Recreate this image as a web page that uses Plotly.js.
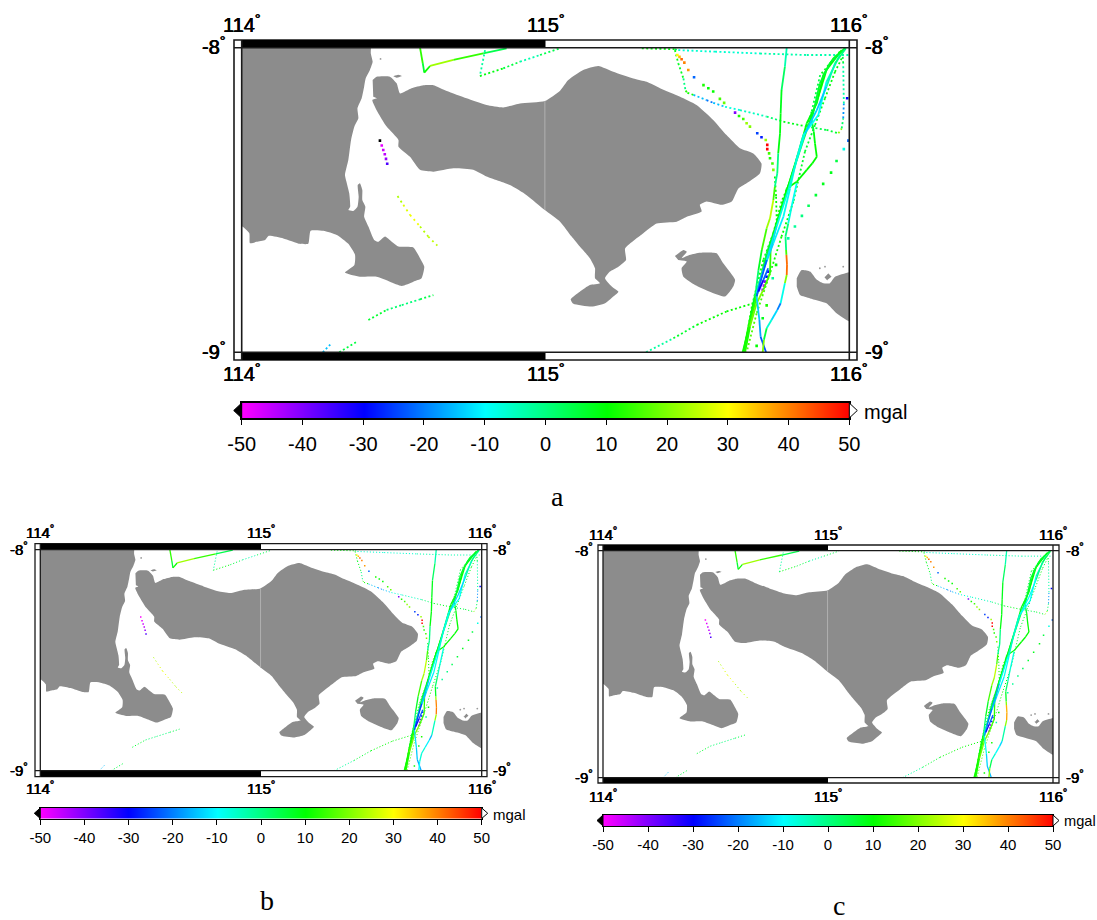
<!DOCTYPE html>
<html><head><meta charset="utf-8">
<script src="https://cdn.plot.ly/plotly-3.0.1.min.js"></script>
<style>html,body{margin:0;padding:0;background:#fff}</style></head>
<body><div id="chart" style="width:1097px;height:920px"></div>
<script>
// ---------- land outlines (lon / lat) ----------
const javaLon=[113.9,114.422,114.425,114.431,114.422,114.408,114.403,114.395,114.381,114.384,114.371,114.360,114.351,114.340,114.346,114.354,114.357,114.351,114.367,114.381,114.385,114.382,114.389,114.397,114.397,114.407,114.403,114.417,114.436,114.450,114.472,114.494,114.516,114.565,114.587,114.601,114.592,114.565,114.527,114.488,114.444,114.389,114.340,114.371,114.373,114.351,114.313,114.269,114.227,114.219,114.192,114.137,114.088,114.077,114.049,114.027,114.025,114.002,113.9];
const javaLat=[-7.9,-7.9,-8.019,-8.046,-8.073,-8.101,-8.128,-8.166,-8.199,-8.232,-8.259,-8.303,-8.369,-8.418,-8.445,-8.478,-8.522,-8.533,-8.536,-8.522,-8.489,-8.451,-8.445,-8.467,-8.500,-8.522,-8.555,-8.587,-8.631,-8.637,-8.620,-8.637,-8.653,-8.656,-8.691,-8.719,-8.757,-8.768,-8.782,-8.768,-8.752,-8.752,-8.738,-8.713,-8.680,-8.644,-8.615,-8.601,-8.601,-8.644,-8.644,-8.626,-8.618,-8.631,-8.637,-8.642,-8.609,-8.587,-8.56];
const baliLon=[114.431,114.444,114.488,114.510,114.521,114.559,114.598,114.631,114.675,114.740,114.806,114.861,114.916,114.998,115.048,115.075,115.124,115.174,115.223,115.289,115.333,115.377,115.443,115.497,115.552,115.596,115.640,115.684,115.711,115.706,115.662,115.635,115.613,115.580,115.530,115.508,115.514,115.465,115.432,115.366,115.322,115.262,115.265,115.240,115.212,115.196,115.218,115.240,115.229,115.196,115.152,115.092,115.083,115.113,115.146,115.179,115.163,115.163,115.146,115.113,115.086,115.048,114.998,114.938,114.883,114.806,114.762,114.697,114.631,114.587,114.554,114.516,114.516,114.477,114.444,114.430,114.444,114.433];
const baliLat=[-8.106,-8.095,-8.095,-8.117,-8.150,-8.133,-8.123,-8.123,-8.142,-8.166,-8.188,-8.196,-8.183,-8.175,-8.141,-8.106,-8.073,-8.060,-8.079,-8.101,-8.112,-8.133,-8.161,-8.188,-8.237,-8.287,-8.330,-8.347,-8.380,-8.412,-8.445,-8.462,-8.505,-8.516,-8.505,-8.516,-8.538,-8.555,-8.571,-8.577,-8.609,-8.659,-8.697,-8.719,-8.735,-8.757,-8.784,-8.801,-8.812,-8.839,-8.850,-8.841,-8.826,-8.801,-8.779,-8.773,-8.757,-8.724,-8.691,-8.653,-8.620,-8.571,-8.533,-8.484,-8.451,-8.423,-8.401,-8.396,-8.407,-8.401,-8.358,-8.325,-8.303,-8.259,-8.205,-8.172,-8.166,-8.161];
const penidaLon=[115.426,115.454,115.465,115.448,115.476,115.509,115.563,115.585,115.624,115.618,115.591,115.541,115.492,115.454,115.448,115.465,115.437];
const penidaLat=[-8.684,-8.664,-8.670,-8.691,-8.680,-8.673,-8.675,-8.708,-8.762,-8.784,-8.817,-8.801,-8.779,-8.752,-8.724,-8.702,-8.697];
const lombokLon=[115.827,115.843,115.871,115.893,115.914,115.936,115.953,116.0,116.1,116.1,116.0,115.958,115.925,115.871,115.838,115.827];
const lombokLat=[-8.757,-8.730,-8.735,-8.762,-8.773,-8.773,-8.752,-8.737,-8.72,-8.93,-8.899,-8.872,-8.839,-8.823,-8.812,-8.784];
const isletLon=[115.917,115.931,115.945,115.928];
const isletLat=[-8.752,-8.737,-8.752,-8.765];
const menjanganLon=[114.499,114.515,114.527,114.510];
const menjanganLat=[-8.094,-8.089,-8.093,-8.099];
const speckLon=[115.903,115.920,115.980,114.457];
const speckLat=[-8.724,-8.719,-8.719,-8.037];
const seamLon=[114.998,114.998];
const seamLat=[-8.175,-8.533];

// ---------- solid ship tracks (lon, lat, mgal) ----------
const t1Lon=[115.794,115.788,115.777,115.774,115.772,115.766,115.763,115.755,115.750,115.739,115.728,115.712,115.701,115.693,115.684,115.668,115.651];
const t1Lat=[-8,-8.062,-8.139,-8.216,-8.281,-8.347,-8.412,-8.456,-8.500,-8.560,-8.593,-8.664,-8.730,-8.795,-8.839,-8.916,-9];
const t1Val=[-5,-3,8,8,10,8,-8,5,25,25,20,10,5,-2,10,12,12];
const t2Lon=[115.986,115.947,115.914,115.893,115.860,115.832,115.805,115.777,115.750,115.728,115.706,115.690,115.673,115.653];
const t2Lat=[-8.002,-8.035,-8.090,-8.183,-8.248,-8.347,-8.434,-8.522,-8.609,-8.675,-8.763,-8.817,-8.894,-9];
const t2Val=[5,8,8,10,8,10,10,10,6,5,0,5,12,12];
const t3Lon=[115.989,115.953,115.925,115.893,115.854,115.827,115.799,115.761,115.728,115.706,115.695,115.704,115.708,115.726];
const t3Lat=[-8.002,-8.051,-8.128,-8.205,-8.281,-8.369,-8.467,-8.587,-8.697,-8.773,-8.817,-8.894,-8.949,-9];
const t3Val=[0,0,-8,-20,-8,-8,-5,-10,-15,-30,-15,-12,-22,-25];
const t3ValB=[0,0,-8,-18,-8,-8,-5,-12,-18,-32,-15,-10,-18,-15];
const t3ValC=[3,3,-5,-12,-6,-5,-3,-15,-18,-25,-10,-8,-18,-12];
const t4Lon=[115.986,115.936,115.903,115.876,115.883,115.887,115.893,115.878,115.860,115.827,115.794,115.783,115.761,115.741,115.739,115.717,115.695,115.673,115.657];
const t4Lat=[-8.002,-8.051,-8.117,-8.237,-8.275,-8.314,-8.358,-8.380,-8.401,-8.440,-8.462,-8.511,-8.577,-8.664,-8.741,-8.795,-8.839,-8.916,-9];
const t4Val=[8,5,8,5,8,10,10,10,10,10,10,8,10,12,15,15,25,12,12];
const t5Lon=[115.827,115.810,115.799,115.790,115.792,115.793,115.795,115.794,115.788,115.774,115.763,115.744,115.728,115.719,115.715];
const t5Lat=[-8.445,-8.522,-8.577,-8.620,-8.664,-8.680,-8.713,-8.746,-8.773,-8.839,-8.861,-8.894,-8.921,-8.959,-9];
const t5Val=[-8,-10,-5,5,-5,35,48,35,5,-22,-18,-8,-5,15,25];
const t5ValB=[-8,-8,-3,6,8,36,43,38,6,-16,-14,-8,-6,-8,-12];
const t5ValC=[-8,-8,-3,6,8,32,40,34,8,-14,-12,-8,-5,12,28];
const t6Lon=[115.975,115.925,115.898,115.849,115.816,115.788,115.755,115.722,115.695,115.668,115.649];
const t6Lat=[-8.008,-8.073,-8.161,-8.303,-8.401,-8.489,-8.598,-8.708,-8.817,-8.927,-9];
const t6Val=[10,10,10,5,8,10,8,8,15,12,10];
const t7Lon=[115.733,115.717,115.701];
const t7Lat=[-8.724,-8.763,-8.801];
const t7Val=[-15,-30,-32];
const t8Lon=[115.969,115.925,115.898,115.849,115.827,115.805,115.783,115.750,115.717,115.695];
const t8Lat=[-8.024,-8.112,-8.221,-8.287,-8.363,-8.462,-8.555,-8.642,-8.730,-8.806];
const t8Val=[-5,-5,-15,-5,-8,-8,-10,-12,-15,-8];
const s1Lon=[114.587,114.596,114.601,114.620,114.697,114.795,114.872];
const s1Lat=[-8,-8.051,-8.082,-8.060,-8.040,-8.019,-8.002];
const s1Val=[12,15,-3,25,20,8,0];

// ---------- dotted ship tracks (lon, lat, mgal) ----------
const c1Lon=[115.975,115.953,115.920,115.887,115.854,115.816,115.777,115.739,115.695,115.662];
const c1Lat=[-8.035,-8.079,-8.166,-8.254,-8.341,-8.505,-8.620,-8.741,-8.872,-9];
const c1Val=[8,10,8,8,5,8,12,10,20,12];
const c2Lon=[115.969,115.904,115.876,115.843,115.805,115.777,115.750,115.717,115.679,115.653];
const c2Lat=[-8.013,-8.090,-8.210,-8.309,-8.440,-8.505,-8.609,-8.697,-8.850,-9];
const c2Val=[10,6,3,5,10,10,12,10,12,12];
const d1Lon=[115.317,115.426,115.437,115.558,115.706,115.860,115.997];
const d1Lat=[-8.002,-8.005,-8.008,-8.013,-8.019,-8.024,-8.024];
const d1Val=[8,10,-5,-8,-5,-2,-5];
const d2Lon=[115.426,115.437,115.454,115.461,115.467,115.487,115.530,115.552,115.591,115.640,115.728,115.783,115.860,115.925,115.964,115.975,115.980,115.982,115.980,115.978];
const d2Lat=[-8.008,-8.051,-8.101,-8.141,-8.148,-8.155,-8.172,-8.181,-8.194,-8.205,-8.226,-8.243,-8.259,-8.270,-8.281,-8.265,-8.232,-8.183,-8.051,-8.024];
const d2Val=[8,10,5,-5,30,-8,-22,-20,-10,-5,-5,8,8,0,12,30,-25,-12,6,5];
const d4Lon=[115.331,115.421,115.498,115.596,115.684];
const d4Lat=[-9,-8.954,-8.910,-8.866,-8.839];
const d4Val=[-8,3,10,10,10];
const d6Lon=[114.801,114.784,114.861,114.916,114.982,115.048];
const d6Lat=[-8.008,-8.093,-8.068,-8.046,-8.024,-8.002];
const d6Val=[-8,3,15,-5,-2,10];
const d8Lon=[114.513,114.532,114.554,114.587,114.614,114.644];
const d8Lat=[-8.487,-8.516,-8.549,-8.587,-8.620,-8.650];
const d8Val=[22,25,30,28,20,30];
const d9Lon=[114.417,114.477,114.527,114.587,114.631];
const d9Lat=[-8.894,-8.861,-8.845,-8.826,-8.812];
const d9Val=[8,5,-2,3,6];
const d10Lon=[114.267,114.293];
const d10Lat=[-9,-8.973];
const d10Val=[-15,-15];
const d11Lon=[114.321,114.376];
const d11Lat=[-9,-8.967];
const d11Val=[5,5];
const d12Lon=[115.755,115.759,115.761];
const d12Lat=[-8.423,-8.489,-8.566];
const d12Val=[10,10,10];

// ---------- isolated soundings (lon, lat, mgal) ----------
const spotLon=[114.461,114.466,114.471,114.475,114.479, 115.434,115.441,115.448,115.457,115.470,115.489,115.520,115.536,115.552,115.574,115.588,115.624,115.637,115.651,115.662,115.673,115.697,115.711,115.725,115.730,115.730,115.736,115.739,115.747,115.750, 115.997,115.982,115.958,115.940,115.914,115.890,115.866,115.844,115.821,115.799,115.993,115.759,115.748,115.728,115.715,115.695, 115.733,115.728,115.722,115.719,115.715];
const spotLat=[-8.321,-8.336,-8.350,-8.365,-8.381, -8.024,-8.030,-8.038,-8.049,-8.073,-8.097,-8.123,-8.133,-8.144,-8.168,-8.181,-8.213,-8.224,-8.234,-8.248,-8.259,-8.281,-8.294,-8.303,-8.319,-8.333,-8.347,-8.363,-8.380,-8.401, -8.305,-8.333,-8.372,-8.410,-8.447,-8.484,-8.519,-8.552,-8.587,-8.626,-8.166,-8.713,-8.757,-8.846,-8.888,-8.979, -8.735,-8.752,-8.768,-8.781,-8.795];
const spotVal=[-48,-46,-45,-42,-36, 30,35,42,40,38,-22,12,10,10,15,18,-40,12,15,22,20,-25,-28,22,50,50,15,12,15,20, -22,-8,5,8,8,6,3,0,-2,-3,-30,10,-2,12,8,10, -32,-30,-40,-45,-42];
const blackSpotLon=[114.455];
const blackSpotLat=[-8.305];

// ---------- colour bar ----------
const cbLevels=[-50,-45,-40,-35,-30,-25,-20,-15,-10,-5,0,5,10,15,20,25,30,35,40,45,50];
const cbTickVals=[-50,-40,-30,-20,-10,0,10,20,30,40,50];
const cbTickText=['-50','-40','-30','-20','-10','0','10','20','30','40','50'];
const cbUnit='mgal';
const lonTicks=[114,115,116];
const lonTickText=['114','115','116'];
const latTicks=[-8,-9];
const latTickText=['-8','-9'];

const W=1097,H=920;
const rainbow=[[0,'#ff00ff'],[0.2,'#0000ff'],[0.4,'#00ffff'],[0.6,'#00ff00'],[0.8,'#ffff00'],[1,'#ff0000']];
const stops=[[255,0,255],[0,0,255],[0,255,255],[0,255,0],[255,255,0],[255,0,0]];
function valColor(v){
  const t=Math.max(0,Math.min(0.9999,(v+50)/100))*5,i=Math.floor(t),f=t-i;
  const c=stops[i].map((a,k)=>Math.round(a+(stops[i+1][k]-a)*f));
  return 'rgb('+c.join(',')+')';
}
const solid=[[t1Lon,t1Lat,t1Val,t1Val,t1Val],[t2Lon,t2Lat,t2Val,t2Val,t2Val],[t6Lon,t6Lat,t6Val,t6Val,t6Val],
 [t4Lon,t4Lat,t4Val,t4Val,t4Val],[t8Lon,t8Lat,t8Val,t8Val,t8Val],[t3Lon,t3Lat,t3Val,t3ValB,t3ValC],[t5Lon,t5Lat,t5Val,t5ValB,t5ValC],[t7Lon,t7Lat,t7Val,t7Val,t7Val],[s1Lon,s1Lat,s1Val,s1Val,s1Val]];
const dotted=[[c1Lon,c1Lat,c1Val],[c2Lon,c2Lat,c2Val],[d1Lon,d1Lat,d1Val],[d2Lon,d2Lat,d2Val],[d4Lon,d4Lat,d4Val],[d6Lon,d6Lat,d6Val],[d8Lon,d8Lat,d8Val,1],[d9Lon,d9Lat,d9Val],[d10Lon,d10Lat,d10Val],[d11Lon,d11Lat,d11Val],[d12Lon,d12Lat,d12Val]];
const lands=[[javaLon,javaLat],[baliLon,baliLat],[penidaLon,penidaLat],[lombokLon,lombokLat],[menjanganLon,menjanganLat]];

const panels=[
 {inner:[241.7,849.3,47.7,352.3],outer:[234,857,40,360],bar:[241.7,849.3,403,418],fs:20,lw:1.6,sw:1.8,dw:1.8,dash:'2px,2.4px',wide:'2px,3.6px',ms:2.6,
  topY:23,botY:372,latDy:-2,leftX:227,rightX:863,unitX:862,unitY:412,unitFs:20,tl:5,stand:2},
 {inner:[40.3,481.7,549.7,770.7],outer:[35,487,543.7,776.7],bar:[40.3,481.7,808,818.5],fs:15,lw:1.3,sw:1.3,dw:1,dash:'1.1px,2px',wide:'1.1px,2.8px',ms:1.5,
  topY:531,botY:787,latDy:-1,leftX:30,rightX:491,unitX:491,unitY:814,unitFs:15,tl:5,stand:0},
 {inner:[603,1053,550.7,777.7],outer:[598,1059,545,783],bar:[603,1053,815,826],fs:15,lw:1.3,sw:1.3,dw:1,dash:'1.1px,2px',wide:'1.1px,2.8px',ms:1.5,
  topY:533,botY:795,latDy:-1,leftX:595,rightX:1064,unitX:1062,unitY:821,unitFs:14.6,tl:5,stand:0}
];
const px=x=>x/W, py=y=>1-y/H;
const traces=[],shapes=[],annotations=[];
const layout={width:W,height:H,margin:{l:0,r:0,t:0,b:0},paper_bgcolor:'#fff',plot_bgcolor:'#fff',showlegend:false,font:{family:'Liberation Sans, Helvetica, Arial, sans-serif',color:'#000'}};
function text(t,x,y,size,anchor,family,medium){
  const font={size:size,color:'#000',family:family||'Liberation Sans, Arial, sans-serif'};
  if(medium) font.shadow='0.35px 0 0 #000, -0.35px 0 0 #000';
  annotations.push({text:t,xref:'paper',yref:'paper',x:px(x),y:py(y),xanchor:anchor,yanchor:'middle',showarrow:false,font:font});
}
function line(x0,y0,x1,y1,w,col){shapes.push({type:'line',xref:'paper',yref:'paper',x0:px(x0),y0:py(y0),x1:px(x1),y1:py(y1),line:{color:col||'#1a1a1a',width:w},layer:'above'});}
function rect(x0,y0,x1,y1,fill,w){shapes.push({type:'rect',xref:'paper',yref:'paper',x0:px(x0),y0:py(y0),x1:px(x1),y1:py(y1),fillcolor:fill,line:{color:'#1a1a1a',width:w},layer:'above'});}

panels.forEach((p,n)=>{
  const sx=n===0?'':String(n+1), xa='x'+sx, ya='y'+sx;
  const [l,r,t,b]=p.inner,[ol,or,ot,ob]=p.outer;
  layout['xaxis'+sx]={domain:[px(l),px(r)],range:[114,116],anchor:ya,visible:false,fixedrange:true};
  layout['yaxis'+sx]={domain:[py(b),py(t)],range:[-9,-8],anchor:xa,visible:false,fixedrange:true};
  const base={xaxis:xa,yaxis:ya,hoverinfo:'skip'};
  lands.forEach(g=>traces.push({...base,type:'scatter',mode:'lines',x:g[0],y:g[1],fill:'toself',fillcolor:'#8c8c8c',line:{width:0,color:'#8c8c8c',shape:'spline',smoothing:0.5}}));
  traces.push({...base,type:'scatter',mode:'lines',x:isletLon,y:isletLat,fill:'toself',fillcolor:'#8c8c8c',line:{width:1.5,color:'#fff'}});
  traces.push({...base,type:'scatter',mode:'markers',x:speckLon,y:speckLat,marker:{size:1.8,color:'#9a9a9a'}});
  traces.push({...base,type:'scatter',mode:'lines',x:seamLon,y:seamLat,line:{width:1,color:'#b0b0b0'}});
  dotted.forEach(d=>{for(let i=0;i<d[0].length-1;i++)traces.push({...base,type:'scatter',mode:'lines',x:[d[0][i],d[0][i+1]],y:[d[1][i],d[1][i+1]],
     line:{width:p.dw,color:valColor((d[2][i]+d[2][i+1])/2),dash:d[3]?p.wide:p.dash}});});
  traces.push({...base,type:'scatter',mode:'markers',x:spotLon,y:spotLat,marker:{symbol:'square',size:p.ms,color:spotVal,colorscale:rainbow,cmin:-50,cmax:50,line:{width:0}}});
  traces.push({...base,type:'scatter',mode:'markers',x:blackSpotLon,y:blackSpotLat,marker:{symbol:'square',size:p.ms,color:n===0?'#000':'#ff00ff',line:{width:0}}});
  solid.forEach(s=>{const v=s[2+n];for(let i=0;i<s[0].length-1;i++)traces.push({...base,type:'scatter',mode:'lines',x:[s[0][i],s[0][i+1]],y:[s[1][i],s[1][i+1]],
     line:{width:p.sw,color:valColor((v[i]+v[i+1])/2)}});});

  // fancy frame
  const mid=(l+r)/2;
  rect(ol,ot,or,ob,'rgba(0,0,0,0)',p.lw);
  rect(l,ot,mid,t,'#000',0); rect(l,b,mid,ob,'#000',0);
  line(ol,t,or,t,p.lw); line(ol,b,or,b,p.lw); line(l,ot,l,ob,p.lw); line(r,ot,r,ob,p.lw);

  // degree labels
  lonTicks.forEach((v,i)=>{const x=l+(v-114)/2*(r-l);
    text(lonTickText[i]+'<sup>°</sup>',x,p.topY,p.fs,'center',null,true);
    text(lonTickText[i]+'<sup>°</sup>',x,p.botY,p.fs,'center',null,true);});
  latTicks.forEach((v,i)=>{const y=t+(-8-v)*(b-t)+p.latDy;
    text(latTickText[i]+'<sup>°</sup>',p.leftX,y,p.fs,'right',null,true);
    text(latTickText[i]+'<sup>°</sup>',p.rightX,y,p.fs,'left',null,true);});

  // colour bar
  const cx=String(n+4), [bl,br,bt,bb]=p.bar;
  layout['xaxis'+cx]={domain:[px(bl),px(br)],range:[-50,50],anchor:'y'+cx,tickmode:'array',tickvals:cbTickVals,ticktext:cbTickText,ticks:'outside',ticklen:p.tl,tickwidth:1,tickcolor:'#000',
    tickfont:{size:p.fs,color:'#000'},ticklabelstandoff:p.stand,showline:true,linecolor:'#000',linewidth:p.lw,mirror:true,showgrid:false,zeroline:false,fixedrange:true};
  layout['yaxis'+cx]={domain:[py(bb),py(bt)],range:[0,1],anchor:'x'+cx,showticklabels:false,ticks:'',showline:true,linecolor:'#000',linewidth:p.lw,mirror:true,showgrid:false,zeroline:false,fixedrange:true};
  traces.push({type:'heatmap',xaxis:'x'+cx,yaxis:'y'+cx,x:cbLevels,y:[0,1],z:[cbLevels,cbLevels],colorscale:rainbow,zmin:-50,zmax:50,zsmooth:'best',showscale:false,hoverinfo:'skip'});
  const tri=n===0?8:6;
  const ym=(bt+bb)/2;
  shapes.push({type:'path',xref:'paper',yref:'paper',path:`M ${px(bl)} ${py(bt)} L ${px(bl-tri)} ${py(ym)} L ${px(bl)} ${py(bb)} Z`,fillcolor:'#000',line:{color:'#000',width:1},layer:'above'});
  shapes.push({type:'path',xref:'paper',yref:'paper',path:`M ${px(br)} ${py(bt)} L ${px(br+tri)} ${py(ym)} L ${px(br)} ${py(bb)} Z`,fillcolor:'#fff',line:{color:'#000',width:1},layer:'above'});
  text(cbUnit,p.unitX,p.unitY,p.unitFs,'left');
});
const serif='Liberation Serif, Times New Roman, serif';
text('a',557,496,28,'center',serif);
text('b',267,900,28,'center',serif);
text('c',839,905,28,'center',serif);
layout.shapes=shapes; layout.annotations=annotations;
Plotly.newPlot('chart',traces,layout,{displayModeBar:false,staticPlot:true});
</script></body></html>
